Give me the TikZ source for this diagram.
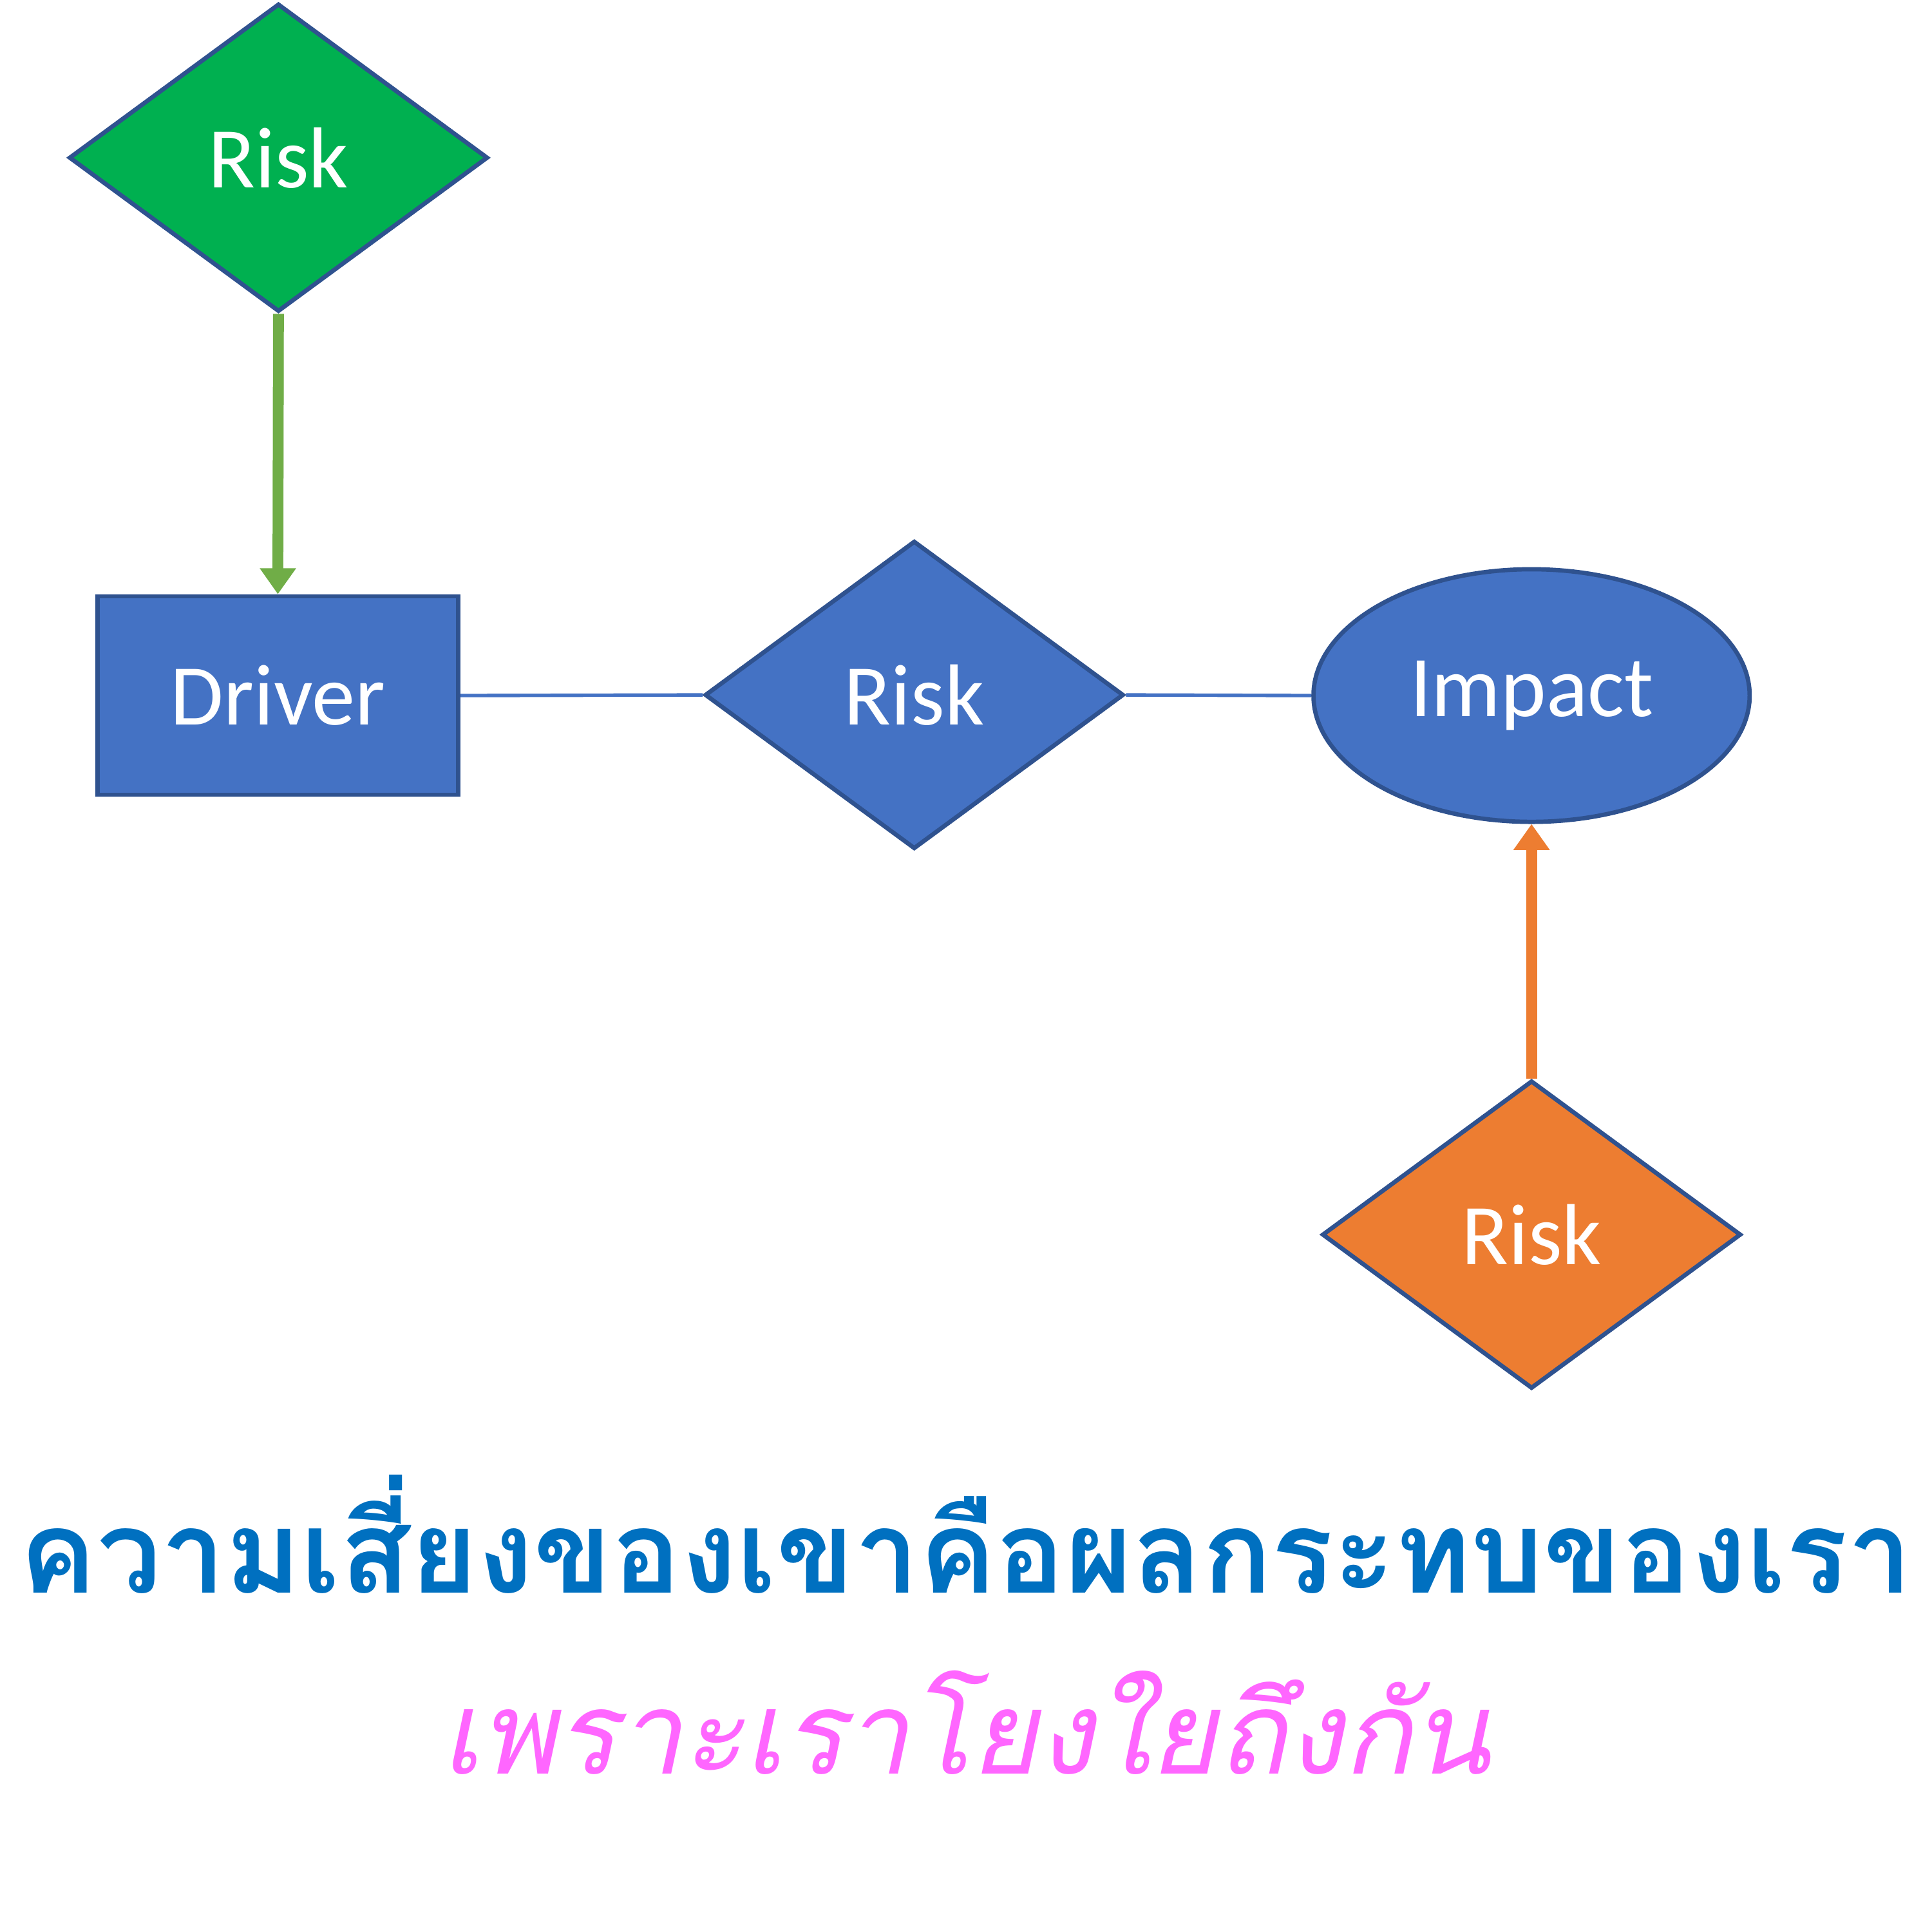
\documentclass[tikz,border=0pt]{standalone}
\usepackage{fontspec}
\setmainfont{Carlito}
\newfontfamily\thaifont[Script=Thai]{Loma}
\usetikzlibrary{positioning,shapes.geometric,arrows.meta}
\definecolor{riskgreen}{HTML}{00B050}
\definecolor{riskblue}{HTML}{4472C4}
\definecolor{riskorange}{HTML}{ED7D31}
\definecolor{edgeblue}{HTML}{2F528F}
\definecolor{arrowgreen}{HTML}{70AD47}
\definecolor{titleblue}{HTML}{0070C0}
\definecolor{titlepink}{HTML}{FF66FF}
\tikzset{
  shape box/.style={draw=edgeblue, line width=1pt, text=white, font=\fontsize{20}{24}\selectfont, inner sep=0pt},
  riskbox/.style={shape box, diamond, minimum width=3.4cm, minimum height=2.5cm, aspect=1.36},
}
\begin{document}
\begin{tikzpicture}
\useasboundingbox (0,0) rectangle (15.68,-15.68);
\node[riskbox, fill=riskgreen] (riskA) at (2.26,-1.28) {Risk};
\node[shape box, rectangle, fill=riskblue, minimum width=2.93cm, minimum height=1.61cm] (driver) at (2.255,-5.645) {Driver};
\node[riskbox, fill=riskblue] (riskB) at (7.42,-5.64) {Risk};
\node[shape box, ellipse, fill=riskblue, minimum width=3.54cm, minimum height=2.05cm] (impact) at (12.43,-5.645) {Impact};
\node[riskbox, fill=riskorange] (riskC) at (12.43,-10.02) {Risk};
% connectors
\draw[arrowgreen, line width=2.5pt, -{Triangle[length=6pt,width=8pt]}] (riskA.south) -- (driver.north);
\draw[riskblue, line width=0.8pt] (driver.east) -- (riskB.west);
\draw[riskblue, line width=0.8pt] (riskB.east) -- (impact.west);
\draw[riskorange, line width=2.5pt, -{Triangle[length=6pt,width=8pt]}] (riskC.north) -- (impact.south);
% caption
\node[text=titleblue, font=\thaifont\bfseries\fontsize{26.5}{32}\selectfont] (title) at (7.84,-12.45) {ความเสี่ยงของเขาคือผลกระทบของเรา};
\node[text=titlepink, font=\thaifont\itshape\fontsize{26.5}{32}\selectfont] (subtitle) at (7.84,-13.98) {เพราะเราโยงใยถึงกัน};
\end{tikzpicture}
\end{document}
